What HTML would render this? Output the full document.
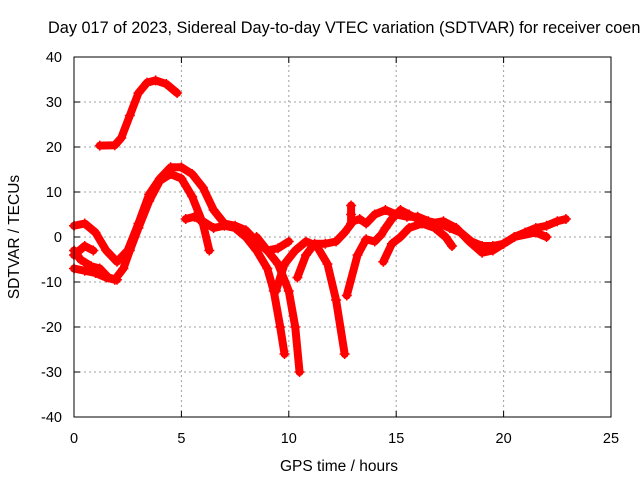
<!DOCTYPE html>
<html><head><meta charset="utf-8"><style>
body{margin:0;background:#fff}
svg{display:block;font-family:"Liberation Sans",sans-serif}
</style></head><body>
<svg id="chart" width="640" height="480">
<text x="48" y="33" font-size="16.3" text-anchor="start">Day 017 of 2023, Sidereal Day-to-day VTEC variation (SDTVAR) for receiver coen</text>
<g id="grid"></g>
<g id="axes"></g>
<g id="series"></g>
<rect x="74" y="57" width="537" height="360" fill="none" stroke="#000" stroke-width="1"/>
<text x="339" y="471" font-size="15.5" text-anchor="middle">GPS time / hours</text>
<text transform="translate(19,237) rotate(-90)" font-size="15.5" text-anchor="middle">SDTVAR / TECUs</text>
</svg>
<script>
const xTicks=[0,5,10,15,20,25];
const yTicks=[-40,-30,-20,-10,0,10,20,30,40];
const trackA=[[1.2,20.3],[1.9,20.4],[2.2,22],[2.6,27],[3.0,32],[3.4,34.3],[3.8,34.8],[4.3,34],[4.8,32]];
const trackB=[[0,2.5],[0.5,3],[1.0,1],[1.5,-3],[2.0,-5.5],[2.5,-3],[3.0,3],[3.5,9.5],[4.0,13],[4.5,15.5],[5.0,15.5],[5.5,14],[6.0,11],[6.5,6],[7,3],[7.5,2.5],[8,1.5],[8.5,-1],[9,-3],[9.5,-2.5],[10,-1]];
const trackC=[[0,-7],[0.5,-7.5],[1.0,-8],[1.5,-9],[1.9,-9.5],[2.3,-7],[2.6,-3],[3.0,2],[3.5,8],[4.0,12.5],[4.5,14],[5.0,13],[5.5,9],[6.0,3],[6.3,-3]];
const trackD=[[0,-3],[0.3,-5],[0.8,-6.5],[1.2,-7],[1.6,-9],[2.0,-9.5]];
const trackE=[[0,-4],[0.5,-2],[0.9,-3]];
const trackF=[[5.2,4],[5.6,4.5],[6,3.5],[6.5,2],[7,2.5],[7.5,2],[8,0],[8.5,-3],[9,-7],[9.3,-12],[9.6,-20],[9.8,-26]];
const trackG=[[8.5,0],[9,-3],[9.5,-6],[10,-12],[10.3,-20],[10.5,-30]];
const trackH=[[9.4,-12],[9.8,-6],[10.3,-3],[10.8,-1],[11.3,-2],[11.8,-6],[12.2,-14],[12.6,-26]];
const trackI=[[10.4,-9],[10.8,-4],[11.2,-1.5],[11.7,-1.5],[12.2,-1],[12.6,1],[13,3.5],[13.3,4],[13.6,3],[14,5],[14.5,6],[15,5],[15.5,4.5],[16,4.5],[16.5,3.5],[17,3],[17.5,2],[18,1],[18.5,-1],[19,-2],[19.5,-2],[20,-1.5],[20.5,0],[21,1],[21.5,2],[22,2.5],[22.5,3.5],[22.9,4]];
const trackJ=[[12.7,-13],[13.2,-4],[13.6,-0.5],[14.0,-1],[14.3,0.5],[14.5,2],[14.8,4],[15.2,6],[15.6,5],[16,4],[16.6,3],[17.2,3.5],[17.8,2],[18.4,-1],[19,-3.5],[19.5,-3],[20,-1.5],[20.5,0],[21.5,1],[22,0]];
const trackK=[[14.4,-5.5],[14.8,-1.5],[15.2,0],[15.6,2],[16.2,3],[16.8,2],[17.3,0],[17.6,-2]];
const trackL=[[12.9,3],[12.9,5],[12.9,7]];
const tracks=[trackA,trackB,trackC,trackD,trackE,trackF,trackG,trackH,trackI,trackJ,trackK,trackL];
const X0=74,X1=611,Y0=417,Y1=57;
function sx(t){return X0+(t-0)/(25-0)*(X1-X0);}
function sy(v){return Y0-(v+40)/80*(Y0-Y1);}
const NS='http://www.w3.org/2000/svg';
function mk(tag,attrs,parent){const e=document.createElementNS(NS,tag);for(const k in attrs)e.setAttribute(k,attrs[k]);parent.appendChild(e);return e;}
const grid=document.getElementById('grid'),axes=document.getElementById('axes'),ser=document.getElementById('series');
xTicks.forEach(t=>{
  const x=sx(t);
  if(t>0&&t<25){const l=mk('line',{x1:x,y1:Y0,x2:x,y2:Y1,stroke:'#a0a0a0','stroke-dasharray':'2,3'},grid);
  
  }
  mk('line',{x1:x,y1:Y0,x2:x,y2:Y0-6,stroke:'#000'},axes);
  mk('line',{x1:x,y1:Y1,x2:x,y2:Y1+6,stroke:'#000'},axes);
  const tx=mk('text',{x:x,y:443,'font-size':14.5,'text-anchor':'middle'},axes);
  tx.textContent=t;
  
  
});
yTicks.forEach(v=>{
  const y=sy(v);
  if(v>-40&&v<40){const l=mk('line',{x1:X0,y1:y,x2:X1,y2:y,stroke:'#a0a0a0','stroke-dasharray':'2,3'},grid);
  
  }
  mk('line',{x1:X0,y1:y,x2:X0+6,y2:y,stroke:'#000'},axes);
  mk('line',{x1:X1,y1:y,x2:X1-6,y2:y,stroke:'#000'},axes);
  const tx=mk('text',{x:62,y:y+5,'font-size':14.5,'text-anchor':'end'},axes);
  tx.textContent=v;
  
  
});
tracks.forEach((tr,i)=>{
  const g=mk('g',{},ser);
  
  
  mk('polyline',{points:tr.map(p=>sx(p[0])+','+sy(p[1])).join(' '),fill:'none',stroke:'#ff0000','stroke-width':8,'stroke-linejoin':'round','stroke-linecap':'round'},g);
  tr.forEach(p=>{
    const x=sx(p[0]),y=sy(p[1]);
    mk('path',{d:`M${x-5},${y}H${x+5}M${x},${y-5}V${y+5}`,stroke:'#ff0000','stroke-width':1.5},g);
  });
});
</script>
</body></html>
